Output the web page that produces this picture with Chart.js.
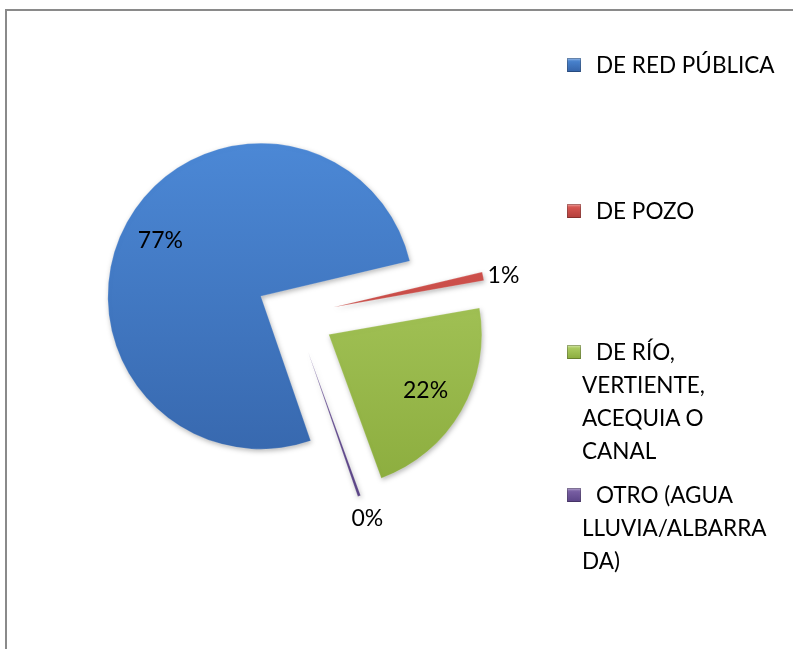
<!DOCTYPE html>
<html>
<head>
<meta charset="utf-8">
<script src="https://cdn.jsdelivr.net/npm/chart.js@4/dist/chart.umd.min.js"></script>
<style>
  body { margin: 0; background: #fff; }
  #wrap { position: relative; width: 793px; height: 649px; overflow: hidden; background: #fff; font-family: "Lato", sans-serif; }
  #frame { position: absolute; left: 5px; top: 9px; width: 900px; height: 900px; border-top: 2px solid #8a8a8a; border-left: 2px solid #8a8a8a; }
  #c { position: absolute; left: 0; top: 0; }
  .item { position: absolute; left: 582px; font-size: 22.5px; line-height: 33px; color: #000; white-space: pre; }
  .mark { position: absolute; left: 567px; width: 14px; height: 14px; box-sizing: border-box; }
</style>
</head>
<body>
<div id="wrap">
  <div id="frame"></div>
  <canvas id="c" width="793" height="649"></canvas>
  <div id="legend"></div>
</div>
<script>
// categories
const categories = ["DE RED PÚBLICA", "DE POZO", "DE RÍO, VERTIENTE, ACEQUIA O CANAL", "OTRO (AGUA LLUVIA/ALBARRADA)"];
// legend lines as they wrap in the picture
const legendLines = [["DE RED PÚBLICA"], ["DE POZO"], ["DE RÍO,", "VERTIENTE,", "ACEQUIA O", "CANAL"], ["OTRO (AGUA", "LLUVIA/ALBARRA", "DA)"]];
// percentages (shown rounded)
const values = [76.6, 0.9, 22.2, 0.3];

// colours: light (top) and dark (bottom)
const lightColors = ["#4d8ad8", "#e05c57", "#b4d36a", "#8066ab"];
const darkColors = ["#3463a8", "#b23e3a", "#8aab3c", "#5b4487"];

// layout
const explode = 39;
const pieRadius = 153;
const legendY = [65, 211, 352, 495];      // centre of first line
const labelDist = [0.75, 1.03, 0.73, 1.16]; // fraction of radius
const labelAlign = ["center", "left", "center", "center"];

// legend in html
const legend = document.getElementById("legend");
legendLines.forEach((lines, i) => {
  const m = document.createElement("div");
  m.className = "mark";
  m.style.top = (legendY[i] - 7) + "px";
  m.style.background = "linear-gradient(" + lightColors[i] + ", " + darkColors[i] + ")";
  m.style.boxShadow = "inset 0 0 0 1px rgba(0,0,0,0.25), inset 0 2px 2px rgba(255,255,255,0.35)";
  legend.appendChild(m);

  const t = document.createElement("div");
  t.className = "item";
  t.style.top = (legendY[i] - 17) + "px";
  t.innerHTML = lines.map((l, k) => (k === 0 ? '<span style="padding-left:14px">' + l + '</span>' : l)).join("<br>");
  legend.appendChild(t);
});

// move each slice out along its middle angle, with a soft shadow
const explodePlugin = {
  id: "explode",
  beforeDatasetsDraw(chart) {
    const a = chart.chartArea;
    const cx = (a.left + a.right) / 2;
    const cy = (a.top + a.bottom) / 2;
    chart.getDatasetMeta(0).data.forEach(arc => {
      const mid = (arc.startAngle + arc.endAngle) / 2;
      arc.x = cx + Math.cos(mid) * explode;
      arc.y = cy + Math.sin(mid) * explode;
    });
    const ctx = chart.ctx;
    ctx.save();
    ctx.shadowColor = "rgba(0,0,0,0.28)";
    ctx.shadowBlur = 5;
    ctx.shadowOffsetX = 1;
    ctx.shadowOffsetY = 2;
  },
  afterDatasetsDraw(chart) {
    chart.ctx.restore();
  }
};

// percentage labels
const labelPlugin = {
  id: "pctLabels",
  afterDatasetsDraw(chart) {
    const ctx = chart.ctx;
    ctx.save();
    ctx.font = '23px "Lato"';
    ctx.fillStyle = "#000";
    ctx.textBaseline = "middle";
    chart.getDatasetMeta(0).data.forEach((arc, i) => {
      const mid = (arc.startAngle + arc.endAngle) / 2;
      const r = arc.outerRadius * labelDist[i];
      ctx.textAlign = labelAlign[i];
      ctx.fillText(Math.round(values[i]) + "%", arc.x + Math.cos(mid) * r, arc.y + Math.sin(mid) * r);
    });
    ctx.restore();
  }
};

function sliceFill(c) {
  const chart = c.chart;
  const a = chart.chartArea;
  if (!a) return lightColors[c.dataIndex];
  const cy = (a.top + a.bottom) / 2;
  const g = chart.ctx.createLinearGradient(0, cy - pieRadius - explode, 0, cy + pieRadius + explode);
  g.addColorStop(0, lightColors[c.dataIndex]);
  g.addColorStop(1, darkColors[c.dataIndex]);
  return g;
}

new Chart(document.getElementById("c"), {
  type: "pie",
  data: {
    labels: categories,
    datasets: [{
      data: values,
      backgroundColor: sliceFill,
      borderColor: "rgba(255,255,255,0.18)",
      borderWidth: 1,
      radius: pieRadius
    }]
  },
  options: {
    responsive: false,
    animation: false,
    events: [],
    rotation: 161,
    layout: { padding: { left: 0, right: 203, top: 0, bottom: 19 } },
    plugins: {
      legend: { display: false },
      tooltip: { enabled: false }
    }
  },
  plugins: [explodePlugin, labelPlugin]
});
</script>
</body>
</html>
